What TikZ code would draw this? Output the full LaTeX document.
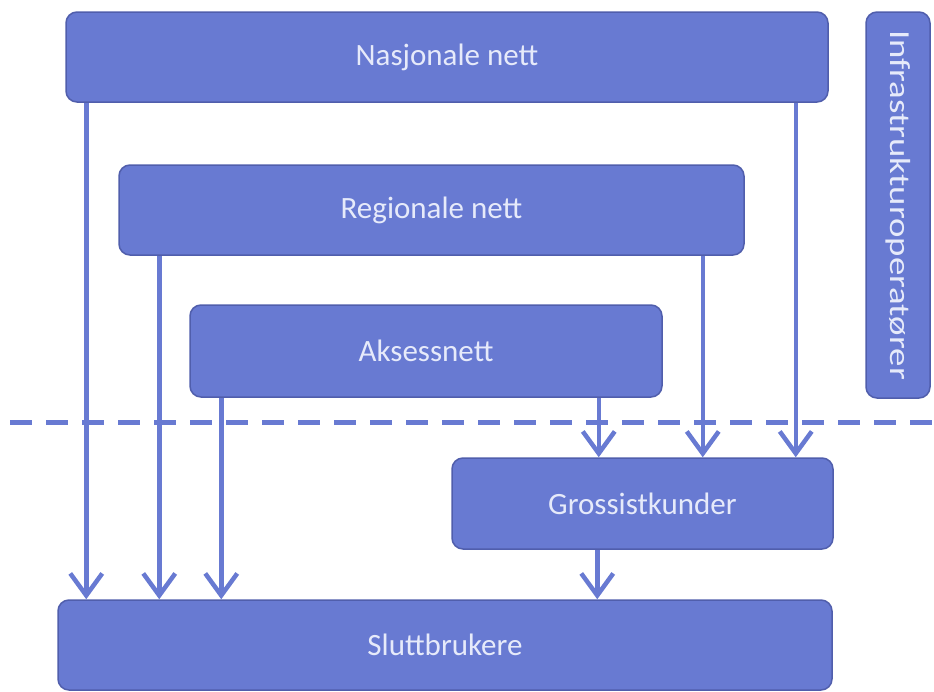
\documentclass[tikz,border=0pt]{standalone}
\usepackage{fontspec}
\usepackage{graphicx}
\setmainfont{Carlito}
\usetikzlibrary{arrows.meta}

\definecolor{boksblaa}{RGB}{104,122,210}
\definecolor{kantblaa}{RGB}{80,94,172}
\definecolor{tekstlys}{RGB}{230,234,250}

\begin{document}
\begin{tikzpicture}[x=1pt, y=-1pt,
  boks/.style={draw=kantblaa, line width=1.5pt, fill=boksblaa, rounded corners=11pt,
    text=tekstlys, font=\fontsize{31}{36}\selectfont, inner sep=0pt},
  pil/.style={draw=boksblaa, line width=4.5pt,
    -{Straight Barb[length=22pt, width=32pt, line width=4.5pt]}}]

\useasboundingbox (0,0) rectangle (934,691);

% Nettnivaaene
\node[boks, minimum width=762pt, minimum height=90pt] (nasjonale) at (447,57) {Nasjonale nett};
\node[boks, minimum width=625pt, minimum height=90pt] (regionale) at (431.5,210) {Regionale nett};
\node[boks, minimum width=472pt, minimum height=92pt] (aksess) at (426,351) {Aksessnett};

% Operatoerene til hoeyre
\node[boks, rotate=-90, minimum width=386pt, minimum height=64pt, font=\fontsize{29}{34}\selectfont] (infra) at (898,205) {\scalebox{1.27}[1]{Infrastrukturoperatører}};

% Skillelinje
\draw[boksblaa, line width=5pt, dash pattern=on 22pt off 14pt] (10,422) -- (934,422);

% Kundene
\node[boks, minimum width=381pt, minimum height=91pt] (grossist) at (642.5,503.5) {Grossistkunder};
\node[boks, minimum width=774pt, minimum height=90pt] (slutt) at (445,645) {Sluttbrukere};

% Piler ned til sluttbrukere
\draw[pil] ([xshift=21pt]nasjonale.south west) -- ([xshift=21pt]nasjonale.south west |- slutt.north);
\draw[pil] ([xshift=41pt]regionale.south west) -- ([xshift=41pt]regionale.south west |- slutt.north);
\draw[pil] ([xshift=32pt]aksess.south west) -- ([xshift=32pt]aksess.south west |- slutt.north);

% Piler ned til grossistkunder
\draw[pil] ([xshift=-33pt]nasjonale.south east) -- ([xshift=-33pt]nasjonale.south east |- grossist.north);
\draw[pil] ([xshift=-42pt]regionale.south east) -- ([xshift=-42pt]regionale.south east |- grossist.north);
\draw[pil] ([xshift=-64pt]aksess.south east) -- ([xshift=-64pt]aksess.south east |- grossist.north);
\draw[pil] ([xshift=146pt]grossist.south west) -- ([xshift=146pt]grossist.south west |- slutt.north);

\end{tikzpicture}
\end{document}
